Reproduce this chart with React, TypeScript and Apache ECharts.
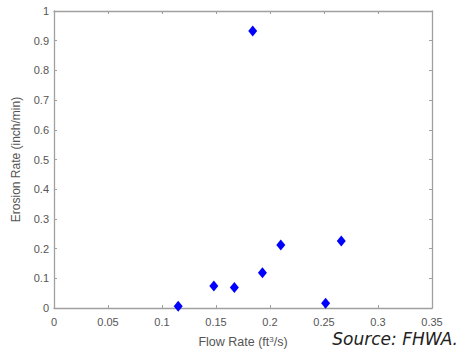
import React, { useEffect, useRef } from "react";
import * as echarts from "echarts";

const flowRate = [0.115, 0.148, 0.167, 0.184, 0.193, 0.21, 0.2515, 0.266];
const erosionRate = [0.006, 0.074, 0.069, 0.933, 0.119, 0.212, 0.016, 0.226];
const xTicks = { min: 0, max: 0.35, interval: 0.05 };
const yTicks = { min: 0, max: 1, interval: 0.1 };

export default function App() {
  const ref = useRef<HTMLDivElement>(null);
  useEffect(() => {
    if (!ref.current) return;
    const chart = echarts.init(ref.current, null, { renderer: "svg" });
    const frame = "#a0a0a0";
    const labelColor = "#555";
    const font = "Arial, 'Liberation Sans', sans-serif";
    const fmt = (v: number) => String(parseFloat(v.toFixed(2)));
    const line = { show: true, onZero: false, lineStyle: { color: frame, width: 1.3 } };
    const tick = { show: true, inside: true, length: 3, lineStyle: { color: frame } };
    chart.setOption({
      animation: false,
      grid: { left: 54, right: 31, top: 11, bottom: 47 },
      xAxis: [
        {
          type: "value",
          min: xTicks.min,
          max: xTicks.max,
          interval: xTicks.interval,
          position: "bottom",
          name: "{a|Flow Rate (ft}{s|3}{a|/s)}",
          nameLocation: "middle",
          nameGap: 27,
          nameTextStyle: {
            rich: {
              a: { fontSize: 12.5, color: labelColor, fontFamily: font },
              s: { fontSize: 8, color: labelColor, fontFamily: font, verticalAlign: "top", padding: [0, 0, 6, 0] },
            },
          },
          axisLine: line,
          axisTick: tick,
          axisLabel: { color: labelColor, fontSize: 11, fontFamily: font, margin: 8, formatter: fmt },
          splitLine: { show: false },
        },
        {
          type: "value",
          min: xTicks.min,
          max: xTicks.max,
          interval: xTicks.interval,
          position: "top",
          axisLine: line,
          axisTick: tick,
          axisLabel: { show: false },
          splitLine: { show: false },
        },
      ],
      yAxis: [
        {
          type: "value",
          min: yTicks.min,
          max: yTicks.max,
          interval: yTicks.interval,
          position: "left",
          name: "Erosion Rate (inch/min)",
          nameLocation: "middle",
          nameGap: 32,
          nameTextStyle: { fontSize: 12, color: labelColor, fontFamily: font },
          axisLine: line,
          axisTick: tick,
          axisLabel: { color: labelColor, fontSize: 11, fontFamily: font, margin: 5, formatter: fmt },
          splitLine: { show: false },
        },
        {
          type: "value",
          min: yTicks.min,
          max: yTicks.max,
          interval: yTicks.interval,
          position: "right",
          axisLine: line,
          axisTick: tick,
          axisLabel: { show: false },
          splitLine: { show: false },
        },
      ],
      series: [
        {
          type: "scatter",
          symbol: "diamond",
          symbolSize: [9, 11],
          itemStyle: { color: "#0000ff", opacity: 1 },
          data: flowRate.map((x, i) => [x, erosionRate[i]]),
        },
      ],
      graphic: [
        {
          type: "text",
          right: 5,
          top: 330,
          style: {
            text: "Source: FHWA.",
            fontSize: 17,
            fontStyle: "italic",
            fontWeight: 300,
            fontFamily: "'DejaVu Sans', sans-serif",
            fill: "#222",
          },
        },
      ],
    });
    return () => chart.dispose();
  }, []);
  return <div ref={ref} style={{ width: 463, height: 355, position: "absolute", left: 0, top: 0 }} />;
}
